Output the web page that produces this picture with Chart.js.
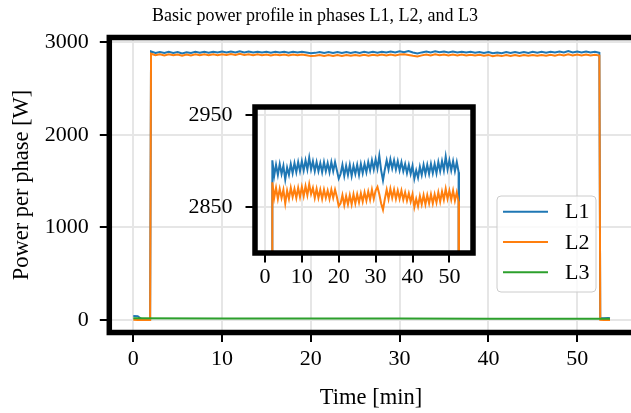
<!DOCTYPE html>
<html>
<head>
<meta charset="utf-8">
<script src="https://cdn.jsdelivr.net/npm/chart.js@4.4.0/dist/chart.umd.min.js"></script>
<style>
  html, body { margin: 0; padding: 0; background: #fff; overflow: hidden; }
  #wrap { position: relative; width: 631px; height: 413px; overflow: hidden; }
  #wrap canvas { position: absolute; left: 0; top: 0; }
</style>
</head>
<body>
<div id="wrap">
  <canvas id="main" width="640" height="413"></canvas>
  <canvas id="inset" width="631" height="413"></canvas>
</div>
<script>
// sample times [min]
const timeMin = [0, 0.5, 1, 1.5, 1.9,
  2, 2.5, 3, 3.5, 4, 4.5, 5, 5.5, 6, 6.5,
  7, 7.5, 8, 8.5, 9, 9.5, 10, 10.5, 11, 11.5,
  12, 12.5, 13, 13.5, 14, 14.5, 15, 15.5, 16, 16.5,
  17, 17.5, 18, 18.5, 19, 19.5, 20, 20.5, 21, 21.5,
  22, 22.5, 23, 23.5, 24, 24.5, 25, 25.5, 26, 26.5,
  27, 27.5, 28, 28.5, 29, 29.5, 30, 30.5, 31, 31.5,
  32, 32.5, 33, 33.5, 34, 34.5, 35, 35.5, 36, 36.5,
  37, 37.5, 38, 38.5, 39, 39.5, 40, 40.5, 41, 41.5,
  42, 42.5, 43, 43.5, 44, 44.5, 45, 45.5, 46, 46.5,
  47, 47.5, 48, 48.5, 49, 49.5, 50, 50.5, 51, 51.5,
  52, 52.5,
  52.6, 53, 53.5, 53.7];

// power per phase [W]
const powerL1 = [42, 40, 6, 5, 6,
  2901, 2884, 2896, 2885, 2897, 2886, 2895, 2880, 2893, 2885,
  2897, 2887, 2898, 2888, 2899, 2889, 2900, 2890, 2901, 2891,
  2904, 2891, 2900, 2889, 2899, 2889, 2898, 2888, 2899, 2889,
  2898, 2888, 2899, 2889, 2899, 2890, 2881, 2886, 2896, 2884,
  2895, 2885, 2896, 2884, 2895, 2886, 2896, 2885, 2897, 2887,
  2897, 2888, 2899, 2890, 2901, 2891, 2902, 2892, 2906, 2890,
  2879, 2891, 2901, 2891, 2902, 2892, 2901, 2891, 2900, 2890,
  2899, 2889, 2897, 2887, 2896, 2886, 2895, 2881, 2890, 2882,
  2894, 2885, 2896, 2886, 2896, 2886, 2897, 2887, 2897, 2887,
  2899, 2889, 2900, 2890, 2905, 2891, 2901, 2890, 2900, 2889,
  2899, 2888,
  22, 20, 21, 20];

const powerL2 = [2, 0, 0, 0, 0,
  2877, 2860, 2871, 2859, 2870, 2860, 2869, 2854, 2868, 2859,
  2871, 2861, 2870, 2860, 2871, 2861, 2872, 2862, 2873, 2863,
  2875, 2864, 2871, 2860, 2870, 2860, 2869, 2859, 2869, 2860,
  2868, 2859, 2869, 2860, 2869, 2861, 2851, 2854, 2863, 2852,
  2862, 2853, 2863, 2853, 2864, 2854, 2864, 2855, 2865, 2856,
  2866, 2857, 2867, 2858, 2869, 2859, 2868, 2872, 2864, 2854,
  2847, 2859, 2869, 2859, 2870, 2860, 2869, 2859, 2868, 2859,
  2868, 2858, 2866, 2857, 2865, 2856, 2864, 2850, 2859, 2851,
  2862, 2853, 2863, 2853, 2863, 2854, 2864, 2854, 2864, 2855,
  2866, 2856, 2867, 2858, 2870, 2859, 2868, 2858, 2868, 2857,
  2866, 2856,
  2, 0, 0, 0];

// L3 stays near idle the whole time
const timeL3 = [0, 10, 20, 30, 40, 50, 53.7];
const powerL3 = [18, 17, 16, 15, 14, 13, 13];

const phaseNames = ["L1", "L2", "L3"];

const xTicks = [0, 10, 20, 30, 40, 50];
const yTicks = [0, 1000, 2000, 3000];
const insetXTicks = [0, 10, 20, 30, 40, 50];
const insetYTicks = [2850, 2950];

const FONT = "'Liberation Serif', 'Times New Roman', Times, serif";
const TICK_SIZE = 22;
const LABEL_SIZE = 22.5;
const TITLE_SIZE = 18;
const GRID = "#e6e6e6";
const colors = ["#1f77b4", "#ff7f0e", "#2ca02c"];

function points(ts, vs) {
  return ts.map((t, i) => ({ x: t, y: vs[i] }));
}

function makeDatasets() {
  const sets = [
    { label: phaseNames[0], data: points(timeMin, powerL1), borderColor: colors[0], order: 3 },
    { label: phaseNames[1], data: points(timeMin, powerL2), borderColor: colors[1], order: 2 },
    { label: phaseNames[2], data: points(timeL3, powerL3), borderColor: colors[2], order: 1 },
  ];
  return sets.map((d) => Object.assign(d, { borderWidth: 2, pointRadius: 0, tension: 0, fill: false }));
}

function axis(min, max, tickValues, fit, pad) {
  return {
    type: "linear",
    min,
    max,
    afterBuildTicks: (s) => { s.ticks = tickValues.map((v) => ({ value: v })); },
    afterFit: fit,
    border: { display: false },
    grid: { color: GRID, lineWidth: 2, drawTicks: true, tickLength: 9.5, tickColor: "#000", tickWidth: 2 },
    ticks: {
      color: "#000",
      font: { family: FONT, size: TICK_SIZE },
      padding: pad,
      maxRotation: 0,
      autoSkip: false,
      callback: (v) => String(v),
    },
  };
}

// thick black box round the plot area, optional white face
const frame = {
  id: "frame",
  beforeDraw(chart, args, opts) {
    if (!opts.fill) return;
    const a = chart.chartArea;
    const ctx = chart.ctx;
    ctx.save();
    ctx.fillStyle = "#fff";
    ctx.fillRect(a.left, a.top, a.right - a.left, a.bottom - a.top);
    ctx.restore();
  },
  afterDatasetsDraw(chart) {
    const a = chart.chartArea;
    const ctx = chart.ctx;
    ctx.save();
    ctx.lineWidth = 5.5;
    ctx.strokeStyle = "#000";
    ctx.strokeRect(a.left, a.top, a.right - a.left, a.bottom - a.top);
    ctx.restore();
  },
};

// title, axis titles and legend of the main plot
const decorations = {
  id: "decorations",
  afterDraw(chart) {
    const ctx = chart.ctx;
    const a = chart.chartArea;
    ctx.save();
    ctx.fillStyle = "#000";

    ctx.textAlign = "center";
    ctx.textBaseline = "alphabetic";
    ctx.font = TITLE_SIZE + "px " + FONT;
    ctx.fillText("Basic power profile in phases L1, L2, and L3", 315, 20.5);

    ctx.font = LABEL_SIZE + "px " + FONT;
    ctx.fillText("Time [min]", 371, 404);

    ctx.save();
    ctx.translate(28, (a.top + a.bottom) / 2);
    ctx.rotate(-Math.PI / 2);
    ctx.fillText("Power per phase [W]", 0, 0);
    ctx.restore();

    // legend
    const bx = 497, by = 196, bw = 99, bh = 96, r = 4;
    ctx.beginPath();
    ctx.moveTo(bx + r, by);
    ctx.arcTo(bx + bw, by, bx + bw, by + bh, r);
    ctx.arcTo(bx + bw, by + bh, bx, by + bh, r);
    ctx.arcTo(bx, by + bh, bx, by, r);
    ctx.arcTo(bx, by, bx + bw, by, r);
    ctx.closePath();
    ctx.fillStyle = "rgba(255,255,255,0.8)";
    ctx.fill();
    ctx.lineWidth = 1;
    ctx.strokeStyle = "#cccccc";
    ctx.stroke();

    ctx.font = TICK_SIZE + "px " + FONT;
    ctx.textAlign = "left";
    ctx.textBaseline = "middle";
    chart.data.datasets.forEach((ds, i) => {
      const ly = 211.7 + i * 30.3;
      ctx.strokeStyle = ds.borderColor;
      ctx.lineWidth = 2;
      ctx.beginPath();
      ctx.moveTo(503, ly);
      ctx.lineTo(548, ly);
      ctx.stroke();
      ctx.fillStyle = "#000";
      ctx.fillText(ds.label, 565, ly + 1);
    });
    ctx.restore();
  },
};

new Chart(document.getElementById("main"), {
  type: "line",
  data: { datasets: makeDatasets() },
  options: {
    responsive: false,
    animation: false,
    devicePixelRatio: 1,
    layout: { padding: { top: 37.5, right: 6, left: 0, bottom: 0 } },
    plugins: { legend: { display: false }, tooltip: { enabled: false }, frame: { fill: false } },
    scales: {
      x: axis(-2.7, 56.4, xTicks, (s) => { s.height = 80.5; }, 4),
      y: axis(-135, 3052, yTicks, (s) => { s.width = 109.3; }, 11),
    },
  },
  plugins: [frame, decorations],
});

new Chart(document.getElementById("inset"), {
  type: "line",
  data: { datasets: makeDatasets() },
  options: {
    responsive: false,
    animation: false,
    devicePixelRatio: 1,
    layout: { padding: { top: 107, right: 631 - 473, left: 255 - 80, bottom: 0 } },
    plugins: { legend: { display: false }, tooltip: { enabled: false }, frame: { fill: true } },
    scales: {
      x: axis(-2.7, 56.4, insetXTicks, (s) => { s.height = 413 - 253; }, 2),
      y: axis(2800, 2959, insetYTicks, (s) => { s.width = 80; }, 13),
    },
  },
  plugins: [frame],
});
</script>
</body>
</html>
